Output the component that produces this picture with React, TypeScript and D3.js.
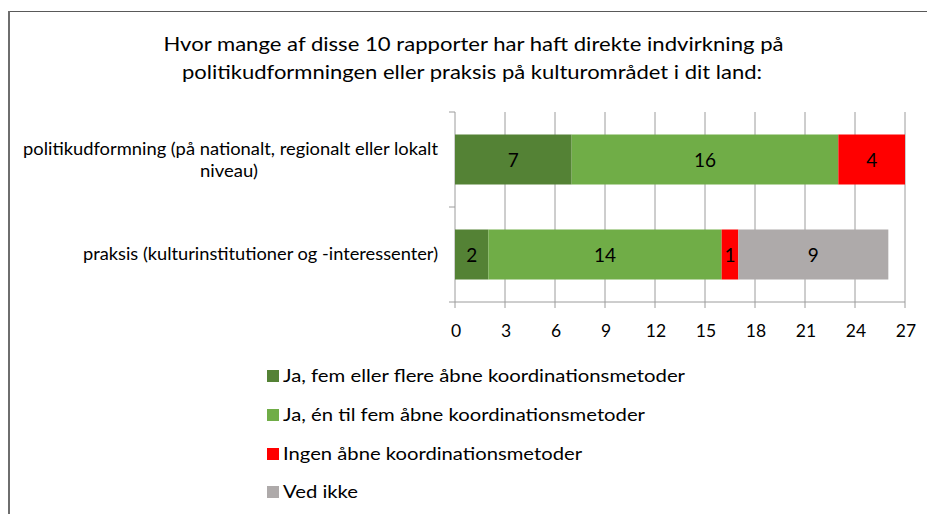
import React from "react";
import * as d3 from "d3";

const categories = [
  "politikudformning (på nationalt, regionalt eller lokalt niveau)",
  "praksis (kulturinstitutioner og -interessenter)",
];
const seriesNames = [
  "Ja, fem eller flere åbne koordinationsmetoder",
  "Ja, én til fem åbne koordinationsmetoder",
  "Ingen åbne koordinationsmetoder",
  "Ved ikke",
];
const seriesColors = ["#548235", "#70AD47", "#FF0000", "#AEAAAA"];
const values = [
  [7, 16, 4, 0],
  [2, 14, 1, 9],
];
const xTicks = [0, 3, 6, 9, 12, 15, 18, 21, 24, 27];
const titleLines = [
  "Hvor mange af disse 10 rapporter har haft direkte indvirkning på",
  "politikudformningen eller praksis på kulturområdet i dit land:",
];

const FONT = "Lato, 'Open Sans', sans-serif";

export default function App() {
  const left = 455, right = 905, top = 112, bottom = 302;
  const x = d3.scaleLinear().domain([0, 27]).range([left, right]);
  const p = 45 / 95;
  const y = d3
    .scaleBand<number>()
    .domain(categories.map((_, i) => i))
    .range([top, bottom])
    .paddingInner(p)
    .paddingOuter(p / 2);

  const stacked = values.map((row) => {
    let acc = 0;
    return row.map((v) => {
      const s = acc;
      acc += v;
      return [s, acc];
    });
  });

  const legendY = [382, 421, 460, 498];
  const legendW = [402, 362, 299, 75];
  const gridColor = "#9c9c9c";

  return (
    <svg
      width={927}
      height={514}
      style={{ position: "absolute", left: 0, top: 0, background: "#fff" }}
      fontFamily={FONT}
    >
      <rect x={0} y={0} width={927} height={514} fill="#fff" />
      {/* frame */}
      <line x1={9} x2={927} y1={11.5} y2={11.5} stroke="#595959" strokeWidth={1.2} />
      <line x1={9} x2={9} y1={11} y2={514} stroke="#6e6e6e" strokeWidth={2} />

      {/* title */}
      <text x={473.5} y={51} textAnchor="middle" fontSize={20} fill="#000" textLength={620} lengthAdjust="spacingAndGlyphs">
        {titleLines[0]}
      </text>
      <text x={472} y={79} textAnchor="middle" fontSize={20} fill="#000" textLength={580} lengthAdjust="spacingAndGlyphs">
        {titleLines[1]}
      </text>

      {/* gridlines */}
      {xTicks.slice(1).map((t) => (
        <line key={"g" + t} x1={x(t)} x2={x(t)} y1={top} y2={bottom + 6} stroke={gridColor} strokeWidth={1} />
      ))}
      {/* axes */}
      <line x1={left} x2={left} y1={top} y2={bottom + 6} stroke={gridColor} strokeWidth={1} />
      <line x1={left - 6} x2={right} y1={bottom} y2={bottom} stroke={gridColor} strokeWidth={1} />
      {[top, top + (bottom - top) / 2].map((v, i) => (
        <line key={"yt" + i} x1={left - 6} x2={left} y1={v} y2={v} stroke={gridColor} strokeWidth={1} />
      ))}

      {/* bars */}
      {stacked.map((row, ci) =>
        row.map(([s, e], si) =>
          e - s > 0 ? (
            <g key={ci + "-" + si}>
              <rect
                x={x(s)}
                y={y(ci)!}
                width={x(e) - x(s)}
                height={y.bandwidth()}
                fill={seriesColors[si]}
              />
              <text
                x={(x(s) + x(e)) / 2}
                y={y(ci)! + y.bandwidth() / 2 + 7}
                textAnchor="middle"
                fontSize={19}
                fill="#000"
              >
                {values[ci][si]}
              </text>
            </g>
          ) : null
        )
      )}

      {/* x tick labels */}
      {xTicks.map((t) => (
        <text key={"xl" + t} x={x(t) + 1} y={337} textAnchor="middle" fontSize={17.5} fill="#000">
          {t}
        </text>
      ))}

      {/* category labels */}
      <text x={230.5} y={155} textAnchor="middle" fontSize={17} fill="#000" textLength={415} lengthAdjust="spacingAndGlyphs">
        politikudformning (på nationalt, regionalt eller lokalt
      </text>
      <text x={229} y={177} textAnchor="middle" fontSize={17} fill="#000" textLength={58} lengthAdjust="spacingAndGlyphs">
        niveau)
      </text>
      <text x={438} y={260} textAnchor="end" fontSize={17} fill="#000" textLength={355} lengthAdjust="spacingAndGlyphs">
        {categories[1]}
      </text>

      {/* legend */}
      {seriesNames.map((n, i) => (
        <g key={"lg" + i}>
          <rect x={267} y={legendY[i] - 12} width={12} height={12} fill={seriesColors[i]} />
          <text x={283} y={legendY[i]} fontSize={18} fill="#000" textLength={legendW[i]} lengthAdjust="spacingAndGlyphs">
            {n}
          </text>
        </g>
      ))}
    </svg>
  );
}
